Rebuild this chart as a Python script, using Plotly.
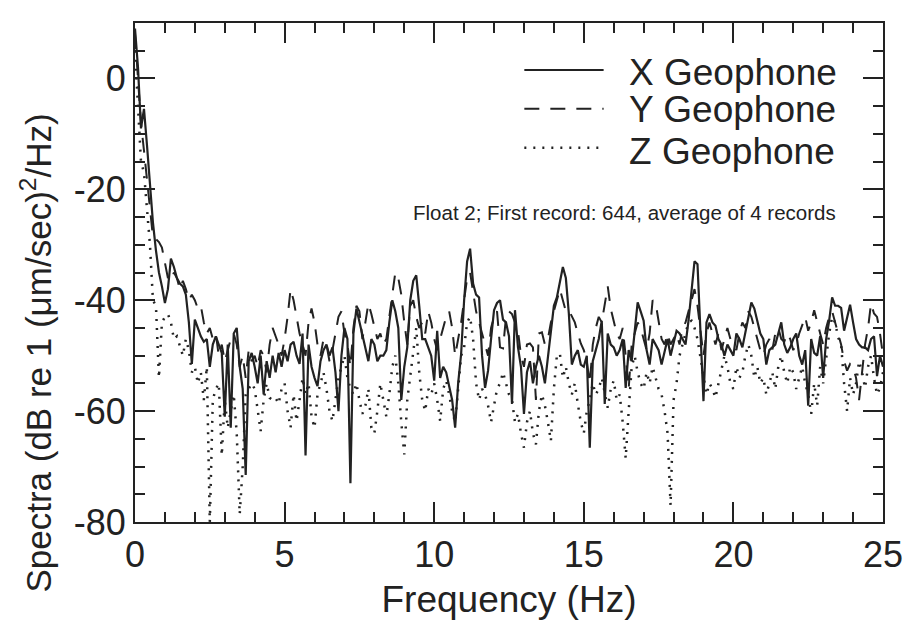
import plotly.graph_objects as go

# Frequency grid (Hz), 0.1 Hz bins from 0 to 25 Hz
freq = [round(0.1 * k, 1) for k in range(251)]

# Spectral levels in dB re 1 (um/sec)^2/Hz, one row per Hz
x_geophone = [
    9, 2, -9, -5.5, -12, -19, -26, -31, -35, -37.5,
    -40.5, -38, -32.5, -34, -36, -37, -37.5, -39, -44, -51.5,
    -43.5, -45, -46.5, -47.5, -47, -52, -48, -46.5, -48, -49.5,
    -61, -48, -63, -46, -45, -52, -56, -71.5, -51, -49.5,
    -52, -55, -50, -57, -51, -54, -50, -53, -49.5, -52,
    -49, -51, -48, -47.5, -50, -51.5, -46, -68, -48, -52,
    -54, -55.5, -51, -49, -48, -50, -48.5, -53, -60, -50,
    -45, -47, -73, -46, -41.5, -44, -46, -49, -51, -47,
    -48, -51, -50, -50, -49, -44, -40, -42, -45, -58,
    -52, -48.5, -40, -36.5, -35.5, -41, -47, -47, -48.5, -50,
    -54.5, -45.5, -54, -52, -53, -55.8, -58, -63, -55, -49.7,
    -40, -33, -30.7, -37, -39, -39.5, -50, -55.8, -52.7, -47,
    -41.8, -40.5, -40, -43.5, -44, -46.5, -58.7, -41.8, -48.5, -52,
    -60.5, -53, -51, -55, -52, -50, -52, -55, -50, -45.5,
    -41, -39.5, -37, -34, -36, -42.4, -51.6, -50, -49, -51.6,
    -52, -50, -66.6, -51, -49, -47, -43.7, -58.7, -46, -48,
    -48.5, -50, -49, -47, -55.8, -49, -51, -46, -40.4, -42,
    -43.7, -49, -51.6, -47, -48, -49, -51.6, -49, -47, -50,
    -48, -45.5, -46, -47, -48, -43.7, -38, -33, -33.5, -45.5,
    -58.2, -44, -42.5, -44, -44.6, -47, -48, -50, -48, -49,
    -50, -46, -47, -48.5, -46, -43, -40.4, -41.5, -43.7, -46,
    -47, -51.6, -49, -48.5, -48, -46, -44, -48, -49.5, -48.5,
    -47, -46, -50, -51.6, -49, -59, -47, -49.5, -50, -46.5,
    -54, -47, -43.7, -39.5, -41, -41, -41.4, -45.5, -43, -40.8,
    -44, -47, -48, -48.5, -48.5, -49, -47, -46.5, -53.7, -50, -52,
]

y_geophone = [
    8, 0, -8, -13, -18, -24, -28.6, -29, -29.5, -30.5,
    -33, -36, -36.5, -35, -36, -38, -36.5, -38, -40, -39,
    -40, -41.5, -41, -44, -46, -45, -47, -46, -50, -48,
    -51, -49, -47, -46, -48, -52, -50, -54, -49, -51,
    -50, -52, -49, -50, -53, -48, -45, -46.5, -48, -50,
    -47, -43, -38, -40, -43, -46, -48, -50, -44, -41.5,
    -44, -48, -50, -47, -48, -51, -49, -46, -43, -42,
    -46, -48, -52, -45, -41, -42, -47, -44, -40.6, -42.5,
    -45, -47, -46, -48, -47, -43, -38, -35, -36, -39,
    -44, -48, -41, -40, -43, -45, -44, -46, -42, -44,
    -47, -49, -47, -45, -43, -42, -45, -50, -47, -44,
    -40, -36, -35, -39, -42, -44, -46, -48, -50, -45,
    -43, -42, -48.5, -48.7, -43, -42, -42.5, -44, -45.5, -50,
    -52, -48, -47.8, -48.5, -58, -46, -45.8, -48, -47, -44,
    -42, -40, -38, -40, -42, -41.8, -43, -44, -46, -47.8,
    -49, -51, -55, -48, -45, -43, -44, -41, -37.5, -41.5,
    -43.7, -46, -47, -45, -50, -56, -48, -46, -44, -45,
    -47, -49, -46, -40, -40.5, -43.7, -47, -48, -46, -48,
    -47, -46, -48, -45, -44, -42, -40, -38, -41, -46,
    -50, -46, -44, -46, -48, -46, -49, -47, -45, -47,
    -48, -49, -46, -44, -45, -42, -43, -45, -47, -49,
    -50, -48, -47, -49, -46, -45, -47, -47.5, -46, -47,
    -49, -48, -46, -44.5, -43, -45.5, -44, -41.8, -43.7, -46,
    -48, -45, -43, -42, -44, -46, -48, -51, -52.7, -51.5,
    -52, -54, -58, -53, -48, -45, -40.6, -42.4, -43, -46, -50,
]

z_geophone = [
    5, -5, -15, -17, -23, -30, -40, -41, -54, -44,
    -43, -42.5, -44, -47, -46.5, -48.5, -50, -47, -49, -53,
    -52, -55, -53, -58, -52, -80, -58, -56, -55, -68,
    -58, -63, -60, -57, -64, -78.6, -70, -57, -56, -55,
    -56, -60, -63.6, -58, -55, -57.6, -58, -57.6, -58.7, -56,
    -55, -60, -63, -57, -61.8, -58, -54, -57, -55, -61,
    -63, -57, -55, -53, -56, -60, -61.8, -58, -54, -52,
    -50, -54, -56, -57, -55, -58, -60.5, -59, -56, -63,
    -64, -60, -55, -58, -61, -57, -52, -50, -55, -62,
    -67.8, -58, -54, -50, -45, -53, -58, -60, -56, -57,
    -55, -58, -61.8, -56, -54.5, -57, -60, -62, -55.8, -50,
    -48.5, -44, -43, -47, -55, -58, -56, -57, -59, -62,
    -59, -56, -55, -53, -55, -57, -58, -62, -60.5, -64,
    -66.6, -62, -60, -64, -66, -60, -57, -59, -62, -65.4,
    -56, -50, -49.6, -54, -52, -55, -57, -55, -58.7, -62,
    -64, -60, -58, -55, -57, -56, -54, -57, -59.4, -56,
    -54.5, -58, -57, -62, -68.5, -60, -52, -50, -53, -55,
    -56, -53, -55, -52, -54, -56, -57, -60, -64, -77,
    -58, -55, -50, -48, -46, -44, -43.7, -45, -47, -50.4,
    -54, -57, -55, -56, -57.6, -55, -52, -50, -52, -55,
    -56, -52, -54, -53, -50, -48, -50, -54, -52, -55,
    -54, -57, -55, -53, -56, -52, -50, -53, -55, -52,
    -53, -56, -54, -52, -55, -57, -60.5, -55, -59, -52,
    -55, -50, -46, -43, -44, -46.7, -48, -55, -60, -54,
    -57, -55, -51, -53, -55.8, -52, -50, -54, -57, -55.8, -53,
]

series_names = ["X Geophone", "Y Geophone", "Z Geophone"]
note_text = "Float 2; First record: 644, average of 4 records"

# Axis ticks, labelled with a plain hyphen-minus
y_tickvals = [-80, -60, -40, -20, 0]
y_ticktext = ["-80", "-60", "-40", "-20", "0"]

INK = "#222222"
FONT = "Liberation Sans, Arial, Helvetica, sans-serif"
dash_styles = ["solid", "15px,11px", "2px,7px"]
widths = [2.2, 2.0, 2.5]

fig = go.Figure()
for name, vals, dash, w in zip(series_names, [x_geophone, y_geophone, z_geophone], dash_styles, widths):
    fig.add_trace(go.Scatter(
        x=freq, y=vals, mode="lines", name=name,
        line=dict(color=INK, width=w, dash=dash),
        showlegend=False, cliponaxis=True,
    ))

# Hand-built key in the upper right corner
key_rows = [(0.906, 0.900), (0.828, 0.826), (0.750, 0.742)]
for (ly, ty), name, dash, w in zip(key_rows, series_names, dash_styles, widths):
    fig.add_shape(type="line", xref="paper", yref="paper",
                  x0=0.5205, x1=0.6265, y0=ly, y1=ly,
                  line=dict(color=INK, width=w if dash != "solid" else 2, dash=dash))
    fig.add_annotation(xref="paper", yref="paper", x=0.658, y=ty,
                       text=name, showarrow=False, xanchor="left", yanchor="middle",
                       font=dict(family=FONT, size=37, color=INK))

fig.add_annotation(xref="paper", yref="paper", x=0.94, y=0.62,
                   text=note_text, showarrow=False, xanchor="right", yanchor="middle",
                   font=dict(family=FONT, size=20.5, color=INK))

# Vertical axis title, sitting a little below the plot's mid-height
fig.add_annotation(xref="paper", yref="paper", x=-0.132, y=0.338,
                   text="Spectra (dB re 1 (\u03bcm/sec)<sup>2</sup>/Hz)",
                   textangle=-90, showarrow=False, xanchor="center", yanchor="middle",
                   font=dict(family=FONT, size=35, color=INK))

axis_common = dict(
    showline=True, linecolor=INK, linewidth=2, mirror="ticks",
    ticks="inside", ticklen=20, tickwidth=2, tickcolor=INK,
    showgrid=False, zeroline=False,
    tickfont=dict(family=FONT, size=36, color=INK),
)

fig.update_layout(
    width=915, height=625,
    margin=dict(l=135, r=25, t=23, b=102),
    paper_bgcolor="white", plot_bgcolor="white",
    font=dict(family=FONT, color=INK),
    xaxis=dict(
        range=[0, 25], dtick=5, tick0=0,
        minor=dict(tickmode="linear", tick0=0, dtick=1, ticks="inside",
                   ticklen=10, tickwidth=1.5, tickcolor=INK),
        title=dict(text="Frequency (Hz)", font=dict(family=FONT, size=37, color=INK), standoff=12),
        **axis_common,
    ),
    yaxis=dict(
        range=[-80, 10], tickmode="array", tickvals=y_tickvals, ticktext=y_ticktext,
        minor=dict(tickmode="linear", tick0=0, dtick=5, ticks="inside",
                   ticklen=10, tickwidth=1.5, tickcolor=INK),
        **axis_common,
    ),
)

fig.write_html("out.html")
